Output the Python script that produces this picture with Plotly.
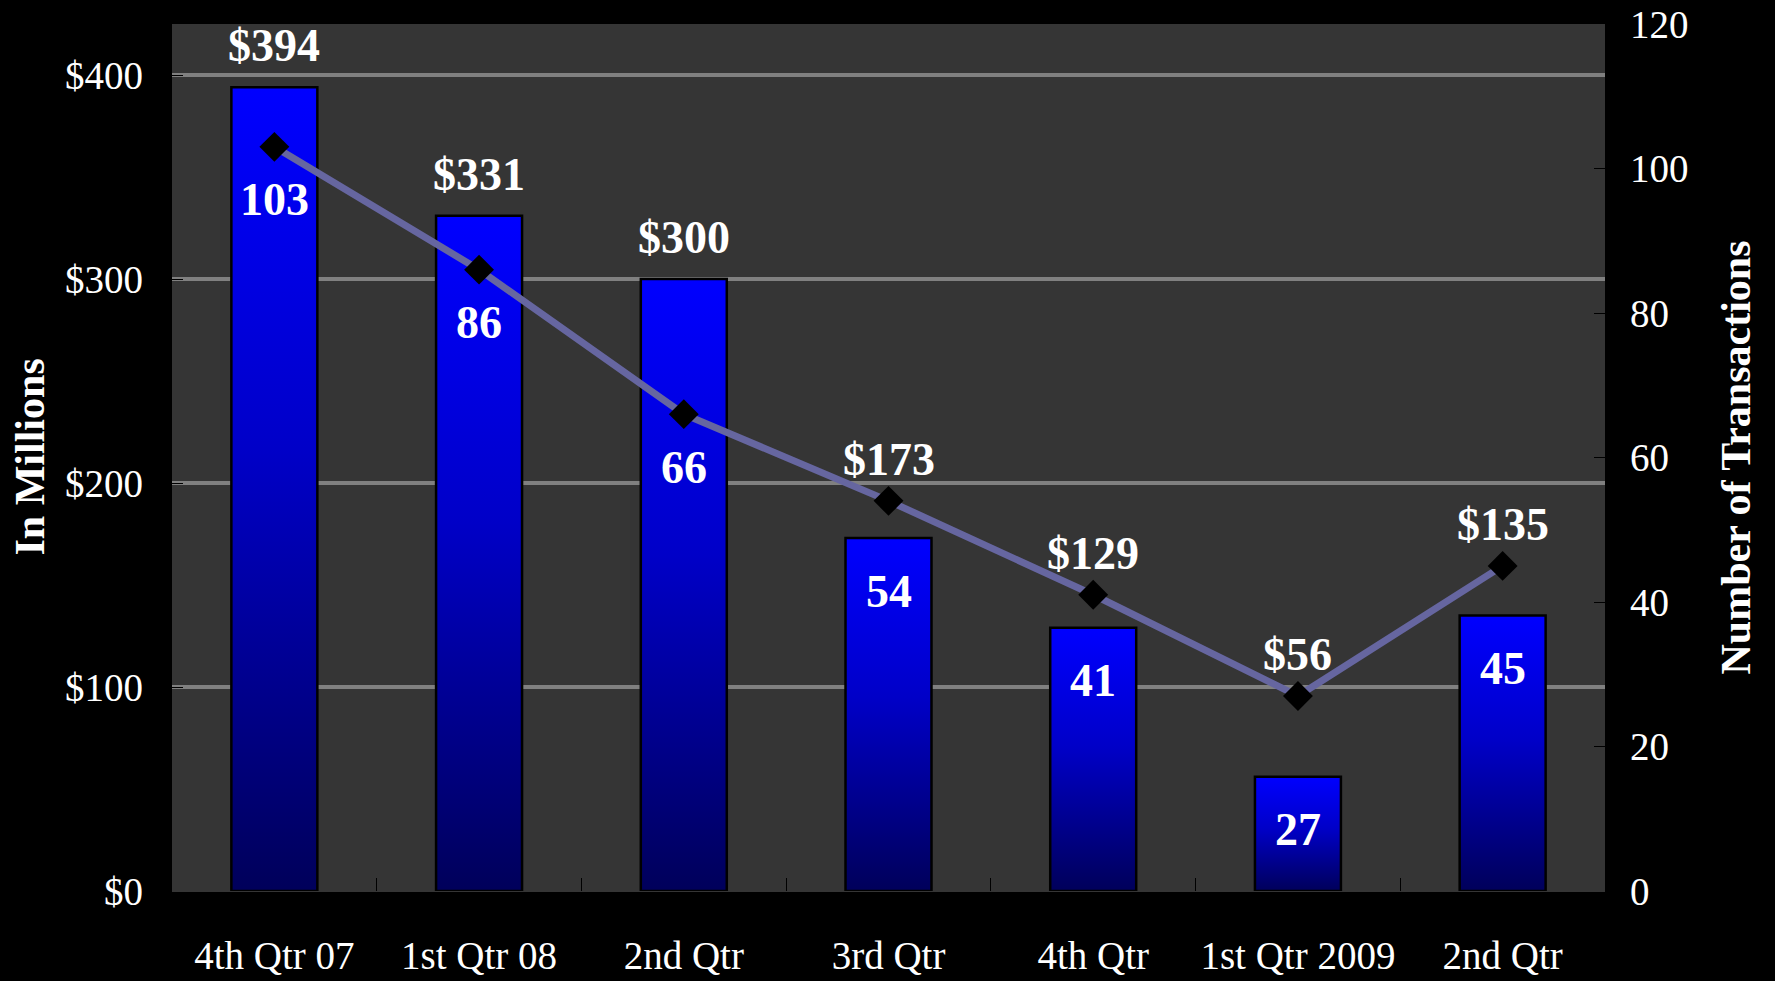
import plotly.graph_objects as go

# Quarterly totals (bars, left axis) and deal counts (line, right axis)
quarters = ["4th Qtr 07", "1st Qtr 08", "2nd Qtr", "3rd Qtr", "4th Qtr", "1st Qtr 2009", "2nd Qtr"]
dollars_millions = [394, 331, 300, 173, 129, 56, 135]
transactions = [103, 86, 66, 54, 41, 27, 45]

left_range = [0, 425]
right_range = [0, 120]
bar_half = 0.21
serif = "Liberation Serif"

fig = go.Figure()

# bars drawn as filled shapes so they can carry a vertical gradient
for i, v in enumerate(dollars_millions):
    fig.add_trace(go.Scatter(
        x=[i - bar_half, i - bar_half, i + bar_half, i + bar_half, i - bar_half],
        y=[0, v, v, 0, 0],
        mode="lines",
        fill="toself",
        line=dict(color="black", width=2.5),
        fillgradient=dict(
            type="vertical",
            colorscale=[[0, "#00005A"], [0.55, "#0000C8"], [1, "#0000FF"]],
        ),
        hoverinfo="skip",
        showlegend=False,
    ))

fig.add_trace(go.Scatter(
    x=list(range(len(quarters))),
    y=transactions,
    yaxis="y2",
    mode="lines+markers",
    line=dict(color="#6666A0", width=7),
    marker=dict(symbol="diamond", size=23, color="black"),
    showlegend=False,
))

# data labels: dollar value above whichever mark is higher, count below the lower one
scale = left_range[1] / right_range[1]
for i, (v, n) in enumerate(zip(dollars_millions, transactions)):
    n_left = n * scale
    fig.add_annotation(
        x=i, y=max(v, n_left), xref="x", yref="y",
        text=f"${v}", showarrow=False, yanchor="bottom", yshift=14,
        font=dict(family=serif, size=46, color="white", weight="bold"),
    )
    fig.add_annotation(
        x=i, y=min(v, n_left), xref="x", yref="y",
        text=str(n), showarrow=False, yanchor="middle", yshift=-53,
        font=dict(family=serif, size=46, color="white", weight="bold"),
    )

# axis titles
title_font = dict(family=serif, size=42, color="white", weight="bold")
fig.add_annotation(x=0, y=0.5, xref="paper", yref="paper", text="In Millions",
                   textangle=-90, showarrow=False, xanchor="center", yanchor="middle",
                   xshift=-143, font=title_font)
fig.add_annotation(x=1, y=0.5, xref="paper", yref="paper", text="Number of Transactions",
                   textangle=-90, showarrow=False, xanchor="center", yanchor="middle",
                   xshift=130, font=title_font)

tick_font = dict(family=serif, size=39, color="white")

fig.update_layout(
    width=1775,
    height=981,
    margin=dict(l=172, r=170, t=24, b=90),
    paper_bgcolor="black",
    plot_bgcolor="#353535",
    xaxis=dict(
        range=[-0.5, len(quarters) - 0.5],
        tickmode="array",
        tickvals=list(range(len(quarters))),
        ticktext=quarters,
        ticks="",
        tickfont=tick_font,
        ticklabelstandoff=38,
        showgrid=False,
        zeroline=False,
        automargin=False,
        minor=dict(
            tickmode="array",
            tickvals=[i + 0.5 for i in range(len(quarters) - 1)],
            ticks="inside", ticklen=13, tickcolor="black", tickwidth=1,
            showgrid=False,
        ),
    ),
    yaxis=dict(
        range=left_range,
        tick0=0, dtick=100,
        tickprefix="$",
        ticks="inside", ticklen=11, tickcolor="black", tickwidth=1,
        tickfont=tick_font,
        ticklabelstandoff=28,
        showgrid=True, gridcolor="#808080", gridwidth=4,
        zeroline=True, zerolinecolor="#353535", zerolinewidth=1,
        automargin=False,
    ),
    yaxis2=dict(
        range=right_range,
        overlaying="y",
        side="right",
        tick0=0, dtick=20,
        ticks="inside", ticklen=11, tickcolor="black", tickwidth=1,
        tickfont=tick_font,
        ticklabelstandoff=24,
        showgrid=False,
        zeroline=False,
        automargin=False,
    ),
)

fig.write_html("out.html", config={"displayModeBar": False},
               post_script="document.body.style.margin='0';")
